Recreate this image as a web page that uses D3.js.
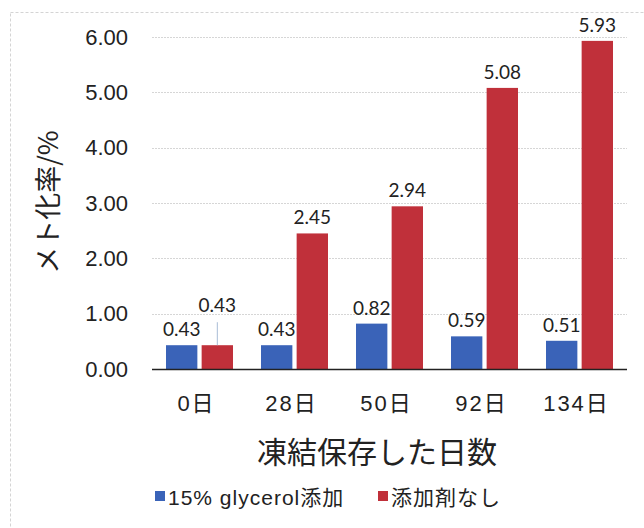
<!DOCTYPE html>
<html>
<head>
<meta charset="utf-8">
<script src="https://cdn.jsdelivr.net/npm/d3@7"></script>
<style>
  html, body { margin: 0; padding: 0; background: #fff; }
  svg { display: block; }
</style>
</head>
<body>
<svg id="chart" width="644" height="528"></svg>
<script>
// Storage days and measured metmyoglobin formation rate (%)
const categories = ["0日", "28日", "50日", "92日", "134日"];
const seriesNames = ["15% glycerol添加", "添加剤なし"];
const glycerolValues = [0.43, 0.43, 0.82, 0.59, 0.51];
const noAdditiveValues = [0.43, 2.45, 2.94, 5.08, 5.93];
const yTicks = [0, 1, 2, 3, 4, 5, 6];
const colors = ["#3a63b8", "#c0303a"];

const svg = d3.select("#chart");
const W = 644, H = 528;
const plot = { left: 152, right: 627, top: 37, bottom: 369 };

// faint dashed frame around the chart area
svg.append("rect")
  .attr("x", 10.5).attr("y", 12.5)
  .attr("width", W + 20).attr("height", H + 20)
  .attr("fill", "none")
  .attr("stroke", "#d4d4d4")
  .attr("stroke-dasharray", "3,2");

const x = d3.scaleBand().domain(categories).range([plot.left, plot.right]).paddingInner(0).paddingOuter(0);
const inner = d3.scaleBand().domain([0, 1]).range([14, x.bandwidth() - 14]).paddingInner(0.12);
const y = d3.scaleLinear().domain([0, 6]).range([plot.bottom, plot.top]);

// gridlines
svg.append("g")
  .selectAll("line")
  .data(yTicks.filter(d => d > 0))
  .join("line")
  .attr("x1", plot.left).attr("x2", plot.right)
  .attr("y1", d => Math.round(y(d)) + 0.5).attr("y2", d => Math.round(y(d)) + 0.5)
  .attr("stroke", "#d6d6d6")
  .attr("stroke-width", 1)
  .attr("stroke-dasharray", "2,1");

// y axis labels
const yAxis = d3.axisLeft(y).tickValues(yTicks).tickFormat(d3.format(".2f")).tickSize(0).tickPadding(24);
const yg = svg.append("g").attr("transform", `translate(${plot.left},0)`).call(yAxis);
yg.select(".domain").remove();
yg.selectAll("text")
  .attr("font-family", "Liberation Sans, Arial, sans-serif")
  .attr("font-size", 22)
  .attr("fill", "#222");

// bars
const data = categories.map((c, i) => ({ cat: c, vals: [glycerolValues[i], noAdditiveValues[i]] }));
const groups = svg.append("g").selectAll("g")
  .data(data)
  .join("g")
  .attr("transform", d => `translate(${x(d.cat)},0)`);

groups.selectAll("rect")
  .data(d => d.vals.map((v, s) => ({ v, s })))
  .join("rect")
  .attr("x", d => inner(d.s))
  .attr("width", inner.bandwidth())
  .attr("y", d => y(d.v))
  .attr("height", d => y(0) - y(d.v))
  .attr("fill", d => colors[d.s]);

// value labels (the first red label is lifted with a leader line)
const labelFont = "Lato, 'Open Sans', sans-serif";
groups.each(function(d, i) {
  const g = d3.select(this);
  d.vals.forEach((v, s) => {
    const cx = inner(s) + inner.bandwidth() / 2;
    let ty = y(v) - 9;
    if (i === 0 && s === 1) {
      ty = y(v) - 33;
      g.append("line")
        .attr("x1", cx).attr("x2", cx)
        .attr("y1", y(v) - 23).attr("y2", y(v))
        .attr("stroke", "#a9bcd6").attr("stroke-width", 1);
    }
    g.append("text")
      .attr("x", cx)
      .attr("y", ty)
      .attr("text-anchor", "middle")
      .attr("font-family", labelFont)
      .attr("font-size", 19)
      .attr("fill", "#222")
      .text(d3.format(".2f")(v));
  });
});

// baseline
svg.append("line")
  .attr("x1", plot.left).attr("x2", plot.right)
  .attr("y1", plot.bottom + 0.5).attr("y2", plot.bottom + 0.5)
  .attr("stroke", "#222").attr("stroke-width", 1.5);

// x axis labels
const xAxis = d3.axisBottom(x).tickSize(0).tickPadding(26);
const xg = svg.append("g").attr("transform", `translate(0,${plot.bottom})`).call(xAxis);
xg.select(".domain").remove();
xg.selectAll("text")
  .attr("font-family", "Liberation Sans, 'Noto Sans CJK JP', sans-serif")
  .attr("font-size", 22)
  .attr("letter-spacing", "2px")
  .attr("dx", "-3")
  .attr("fill", "#222");

// axis titles
svg.append("text")
  .attr("x", 377)
  .attr("y", 463)
  .attr("text-anchor", "middle")
  .attr("font-family", "'Noto Sans CJK JP', sans-serif")
  .attr("font-size", 30)
  .attr("fill", "#222")
  .text("凍結保存した日数");

svg.append("text")
  .attr("transform", "translate(58,202) rotate(-90)")
  .attr("text-anchor", "middle")
  .attr("font-family", "'Noto Sans CJK JP', sans-serif")
  .attr("font-size", 27)
  .attr("fill", "#222")
  .text("メト化率/%");

// legend
const legend = svg.append("g").attr("transform", "translate(155,497)");
const legendX = [0, 223];
seriesNames.forEach((name, s) => {
  const lg = legend.append("g").attr("transform", `translate(${legendX[s]},0)`);
  lg.append("rect").attr("x", 0).attr("y", -6).attr("width", 10).attr("height", 10).attr("fill", colors[s]);
  lg.append("text")
    .attr("x", 13).attr("y", 8)
    .attr("font-family", "Liberation Sans, 'Noto Sans CJK JP', sans-serif")
    .attr("font-size", 21)
    .attr("letter-spacing", "1px")
    .attr("fill", "#222")
    .text(name);
});
</script>
</body>
</html>
